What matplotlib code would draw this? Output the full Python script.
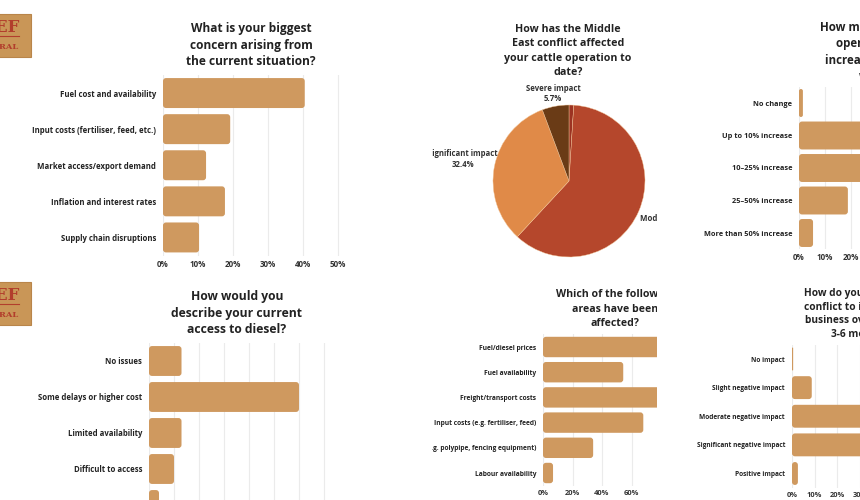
import matplotlib
matplotlib.use("Agg")
import matplotlib.pyplot as plt
from matplotlib.patches import Rectangle, FancyBboxPatch
from matplotlib.transforms import Bbox, TransformedBbox

W, H = 860, 500
plt.rcParams['font.family'] = ['Open Sans', 'DejaVu Sans']

BAR = '#CF995F'
TXT = '#222222'
GRID = '#EBEBEB'

# ---- data ----
p1_title = "What is your biggest\nconcern arising from\nthe current situation?"
p1_cats = ["Fuel cost and availability", "Input costs (fertiliser, feed, etc.)",
           "Market access/export demand", "Inflation and interest rates",
           "Supply chain disruptions"]
p1_vals = [40.5, 19.2, 12.3, 17.7, 10.3]
p1_ticks = [0, 10, 20, 30, 40, 50]

p2_title = "How has the Middle\nEast conflict affected\nyour cattle operation to\ndate?"
p2_cats = ["Minor impact", "Moderate impact", "Significant impact", "Severe impact"]
p2_vals = [1.0, 60.9, 32.4, 5.7]
p2_colors = ['#9C3322', '#B5472C', '#E08A48', '#6A3B16']

p3_title = "How much have your\noperating costs\nincreased in recent\nweeks?"
p3_cats = ["No change", "Up to 10% increase", "10\u201325% increase",
           "25\u201350% increase", "More than 50% increase"]
p3_vals = [1.5, 36.0, 38.3, 18.8, 5.4]
p3_ticks = [0, 10, 20, 30, 40]

p4_title = "How would you\ndescribe your current\naccess to diesel?"
p4_cats = ["No issues", "Some delays or higher cost", "Limited availability",
           "Difficult to access", "Unable to access"]
p4_vals = [13.0, 60.0, 13.0, 10.0, 4.0]
p4_ticks = [0, 10, 20, 30, 40, 50, 60, 70]

p5_title = "Which of the following\nareas have been\naffected?"
p5_cats = ["Fuel/diesel prices", "Fuel availability", "Freight/transport costs",
           "Input costs (e.g. fertiliser, feed)",
           "Materials (e.g. polypipe, fencing equipment)", "Labour availability"]
p5_vals = [90.0, 54.4, 86.0, 68.0, 34.0, 6.8]
p5_ticks = [0, 20, 40, 60, 80, 100]

p6_title = "How do you expect the\nconflict to impact your\nbusiness over the next\n3-6 months?"
p6_cats = ["No impact", "Slight negative impact", "Moderate negative impact",
           "Significant negative impact", "Positive impact"]
p6_vals = [0.5, 8.7, 46.0, 42.2, 2.6]
p6_ticks = [0, 10, 20, 30, 40, 50]

fig = plt.figure(figsize=(W / 100, H / 100), dpi=100)
fig.patch.set_facecolor('white')


def px_axes(l, t, r, b):
    return fig.add_axes([l / W, 1 - b / H, (r - l) / W, (b - t) / H])


def clipbox(x0, x1, y0=0, y1=H):
    return TransformedBbox(Bbox.from_extents(x0 / W, 1 - y1 / H, x1 / W, 1 - y0 / H),
                           fig.transFigure)


def title(txt, cx, cy, size, ls, clip=None):
    t = fig.text(cx / W, 1 - cy / H, txt, ha='center', va='center', fontsize=size,
                 fontweight='bold', color=TXT, linespacing=ls)
    if clip is not None:
        t.set_clip_on(True)
        t.set_clip_box(clip)
    return t


def barpanel(cats, vals, ticks, x0, pxper, top, bottom, xmax, hfrac, lsize, tsize,
             right=None, clip=None, gridmax=None):
    r = right if right is not None else x0 + pxper * xmax
    ax = px_axes(x0, top, r, bottom)
    n = len(cats)
    pitch = (bottom - top) / n
    bars = ax.barh(range(n), vals, height=hfrac, color=BAR, edgecolor='none', zorder=3)
    # rounded corners (~3 px), derived from each bar's geometry
    for b in bars:
        x, y, w, h = b.get_x(), b.get_y(), b.get_width(), b.get_height()
        rs = min(3.0 / pxper, w / 2)
        fb = FancyBboxPatch((x, y), w, h, boxstyle=f"round,pad=0,rounding_size={rs}",
                            mutation_aspect=pxper / pitch, facecolor=BAR,
                            edgecolor='none', zorder=3)
        ax.add_patch(fb)
        b.set_visible(False)
    ax.set_ylim(n - 0.5, -0.5)
    xm = (r - x0) / pxper
    ax.set_xlim(0, xm)
    gm = gridmax if gridmax is not None else ticks[-1]
    for tk in ticks:
        if tk <= gm:
            ax.axvline(tk, color=GRID, lw=0.8, zorder=1)
    ax.set_xticks([t for t in ticks if t <= xm])
    ax.set_xticklabels([f"{t}%" for t in ticks if t <= xm])
    ax.set_yticks(range(n))
    ax.set_yticklabels(cats)
    ax.tick_params(axis='y', length=0, pad=5, labelsize=lsize, labelcolor=TXT)
    ax.tick_params(axis='x', length=0, pad=3, labelsize=tsize, labelcolor='#333333')
    for lab in ax.get_yticklabels() + ax.get_xticklabels():
        lab.set_fontweight('bold')
        if clip is not None:
            lab.set_clip_on(True)
            lab.set_clip_box(clip)
    for s in ax.spines.values():
        s.set_visible(False)
    ax.set_facecolor('none')
    return ax


# ---- logos ----
for ty in (14, 282):
    fig.patches.append(Rectangle((-2 / W, 1 - (ty + 43) / H), 33 / W, 43 / H,
                                 transform=fig.transFigure, facecolor='#C99657',
                                 edgecolor='#B9854A', lw=0.8))
    fig.text(20 / W, 1 - (ty + 13.5) / H, "BEEF", ha='right', va='center', fontsize=12,
             fontweight='bold', color='#B23E2C', family='DejaVu Serif')
    fig.lines.append(plt.Line2D([0, 19 / W], [1 - (ty + 21.5) / H] * 2,
                                transform=fig.transFigure, color='#B23E2C', lw=0.8))
    fig.text(19 / W, 1 - (ty + 33) / H, "CENTRAL", ha='right', va='center', fontsize=6,
             fontweight='bold', color='#B23E2C', family='DejaVu Serif')

# ---- panel 1 ----
title(p1_title, 251, 45, 8.6, 1.36)
barpanel(p1_cats, p1_vals, p1_ticks, 163, 3.5, 75, 255.5, 52, 0.83, 5.6, 5.8)

# ---- panel 2: pie ----
pclip = clipbox(432, 657)
title(p2_title, 568, 51, 7.7, 1.45, clip=pclip)
axp = px_axes(493, 105, 645, 257)
wedges, _ = axp.pie(p2_vals, colors=p2_colors, startangle=90, counterclock=False,
                    wedgeprops=dict(edgecolor='#F3C79A', linewidth=0.3))
axp.set_xlim(-1, 1)
axp.set_ylim(-1, 1)
lab_pos = {"Severe impact": (-0.21, 1.15),
           "Significant impact": (-1.40, 0.29),
           "Moderate impact": (1.37, -0.57)}
for name, v in zip(p2_cats, p2_vals):
    if name in lab_pos:
        x, y = lab_pos[name]
        t = axp.text(x, y, f"{name}\n{v}%", ha='center', va='center', fontsize=5.6,
                     fontweight='bold', color='#333333', linespacing=1.25)
        t.set_clip_on(True)
        t.set_clip_box(pclip)

# ---- panel 3 ----
title(p3_title, 880, 52, 8.3, 1.34)
barpanel(p3_cats, p3_vals, p3_ticks, 799, 2.6, 86.75, 249.25, 40, 0.86, 5.3, 5.8)

# ---- panel 4 ----
title(p4_title, 237, 313, 8.7, 1.38)
barpanel(p4_cats, p4_vals, p4_ticks, 149, 2.5, 343, 523, 72, 0.83, 5.6, 5.8)

# ---- panel 5 ----
title(p5_title, 615, 309, 7.6, 1.38, clip=pclip)
barpanel(p5_cats, p5_vals, p5_ticks, 543, 1.475, 334.4, 485.6, 0, 0.81, 4.8, 5.4,
         right=657, clip=clipbox(432, 662), gridmax=80)

# ---- panel 6 ----
title(p6_title, 862, 314, 7.3, 1.32)
barpanel(p6_cats, p6_vals, p6_ticks, 792, 2.27, 344.7, 487.8, 50, 0.8, 4.7, 5.4)

fig.savefig("out.png", dpi=100, facecolor='white')
